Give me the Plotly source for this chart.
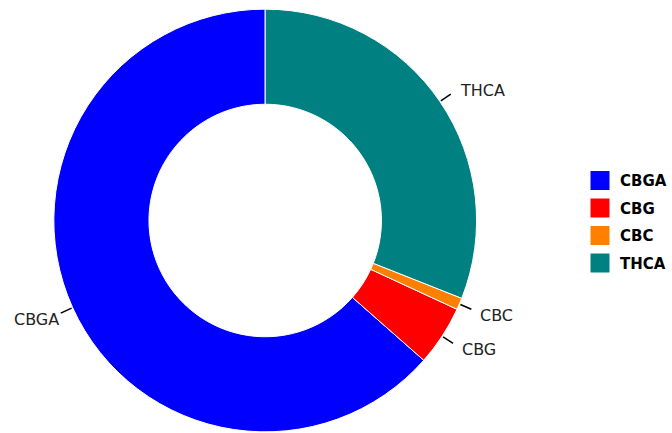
import math
import plotly.graph_objects as go

labels = ["CBGA", "CBG", "CBC", "THCA"]
values = [63.5, 4.6, 0.9, 31.0]
colors = ["#0000ff", "#ff0000", "#ff8000", "#008080"]

W, H = 672, 433
cx, cy, R = 266, 220.5, 212  # pixel geometry of the pie
hole = 0.55

dom_x = [(cx - R) / W, (cx + R) / W]
dom_y = [1 - (cy + R) / H, 1 - (cy - R) / H]

total = sum(values)
# first slice (CBGA) runs counterclockwise back to 12 o'clock; the rest follow
rotation = 360 * (1 - values[0] / total)

fig = go.Figure(go.Pie(
    labels=labels, values=values, sort=False, direction="counterclockwise",
    rotation=rotation,
    hole=hole, marker=dict(colors=colors, line=dict(color="white", width=1)),
    textinfo="none", showlegend=False,
    domain=dict(x=dom_x, y=dom_y), hoverinfo="label+value+percent",
))

# legend entries (square swatches) built from the same labels / colours
for lab, col in zip(labels, colors):
    fig.add_trace(go.Scatter(
        x=[None], y=[None], mode="markers", name=lab, legendgroup=lab,
        marker=dict(symbol="square", size=16, color=col, line=dict(width=3, color=col)),
        showlegend=True, hoverinfo="skip",
    ))

# outside labels + leader lines derived from the slice mid-angles
cum = 0.0
shapes, annots = [], []
for lab, v in zip(labels, values):
    mid = (cum + v / 2) / total
    cum += v
    ang = -2 * math.pi * mid  # counterclockwise from top
    sx, sy = math.sin(ang), -math.cos(ang)
    r0, r1 = R + 1, R + 13
    x1p, y1p = cx + r1 * sx, cy + r1 * sy
    shapes.append(dict(type="line", xref="paper", yref="paper",
                       x0=(cx + r0 * sx) / W, y0=1 - (cy + r0 * sy) / H,
                       x1=x1p / W, y1=1 - y1p / H,
                       line=dict(color="black", width=1.5)))
    annots.append(dict(x=x1p / W, y=1 - y1p / H, xref="paper", yref="paper",
                       text=lab, showarrow=False,
                       xanchor="left" if sx > 0 else "right", yanchor="middle",
                       xshift=7 if sx > 0 else 0,
                       yshift=(4 if sy < 0 else -6),
                       font=dict(family="DejaVu Sans", size=16, color="#222222")))

fig.update_layout(
    width=W, height=H, margin=dict(l=0, r=0, t=0, b=0),
    paper_bgcolor="white", plot_bgcolor="white",
    xaxis=dict(visible=False), yaxis=dict(visible=False),
    shapes=shapes, annotations=annots,
    legend=dict(x=582 / W, xanchor="left", y=1 - 221.75 / H, yanchor="middle",
                font=dict(family="DejaVu Sans", size=15, color="black", weight="bold"),
                tracegroupgap=5, itemsizing="trace", bgcolor="rgba(0,0,0,0)"),
    showlegend=True,
)
fig.write_html("out.html", config={"displayModeBar": False},
               post_script="document.body.style.margin='0';")
